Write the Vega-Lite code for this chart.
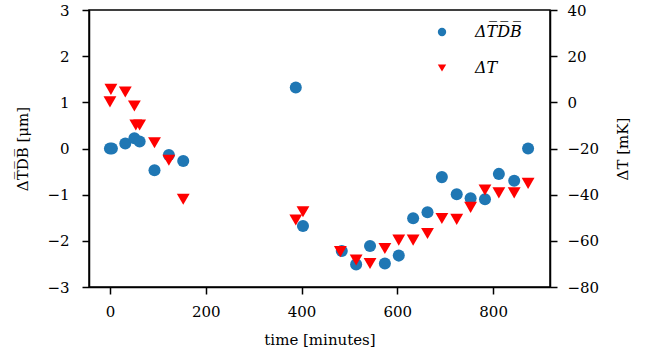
{
  "$schema": "https://vega.github.io/schema/vega-lite/v6.json",
  "width": 461,
  "height": 277,
  "autosize": {"type": "none"},
  "padding": {"left": 89, "top": 10, "right": 102, "bottom": 71},
  "background": "white",
  "config": {
    "view": {"stroke": "black", "strokeWidth": 1.5},
    "font": "DejaVu Serif",
    "axis": {
      "labelFont": "DejaVu Serif",
      "titleFont": "DejaVu Serif",
      "labelFontSize": 15,
      "titleFontSize": 15,
      "labelColor": "black",
      "titleColor": "black",
      "titleFontWeight": "normal",
      "domainColor": "black",
      "domainWidth": 1.5,
      "tickColor": "black",
      "tickWidth": 1.5,
      "tickSize": 7,
      "labelPadding": 7,
      "grid": false
    }
  },
  "data": {
    "values": [
      {"t": 0, "v": 0.0, "s": "ΔT̅D̅B̅"},
      {"t": 4, "v": 0.0, "s": "ΔT̅D̅B̅"},
      {"t": 32, "v": 0.11, "s": "ΔT̅D̅B̅"},
      {"t": 51, "v": 0.22, "s": "ΔT̅D̅B̅"},
      {"t": 62, "v": 0.15, "s": "ΔT̅D̅B̅"},
      {"t": 93, "v": -0.47, "s": "ΔT̅D̅B̅"},
      {"t": 123, "v": -0.14, "s": "ΔT̅D̅B̅"},
      {"t": 153, "v": -0.27, "s": "ΔT̅D̅B̅"},
      {"t": 388, "v": 1.32, "s": "ΔT̅D̅B̅"},
      {"t": 403, "v": -1.68, "s": "ΔT̅D̅B̅"},
      {"t": 484, "v": -2.22, "s": "ΔT̅D̅B̅"},
      {"t": 514, "v": -2.51, "s": "ΔT̅D̅B̅"},
      {"t": 543, "v": -2.11, "s": "ΔT̅D̅B̅"},
      {"t": 574, "v": -2.49, "s": "ΔT̅D̅B̅"},
      {"t": 603, "v": -2.32, "s": "ΔT̅D̅B̅"},
      {"t": 633, "v": -1.51, "s": "ΔT̅D̅B̅"},
      {"t": 663, "v": -1.38, "s": "ΔT̅D̅B̅"},
      {"t": 693, "v": -0.62, "s": "ΔT̅D̅B̅"},
      {"t": 724, "v": -0.99, "s": "ΔT̅D̅B̅"},
      {"t": 753, "v": -1.08, "s": "ΔT̅D̅B̅"},
      {"t": 783, "v": -1.1, "s": "ΔT̅D̅B̅"},
      {"t": 812, "v": -0.55, "s": "ΔT̅D̅B̅"},
      {"t": 844, "v": -0.7, "s": "ΔT̅D̅B̅"},
      {"t": 873, "v": 0.0, "s": "ΔT̅D̅B̅"},
      {"t": 2, "v": 5.6, "s": "ΔT"},
      {"t": 0, "v": 0.2, "s": "ΔT"},
      {"t": 32, "v": 4.5, "s": "ΔT"},
      {"t": 51, "v": -1.6, "s": "ΔT"},
      {"t": 54, "v": -9.8, "s": "ΔT"},
      {"t": 62, "v": -9.8, "s": "ΔT"},
      {"t": 93, "v": -17.5, "s": "ΔT"},
      {"t": 123, "v": -25.1, "s": "ΔT"},
      {"t": 153, "v": -42.0, "s": "ΔT"},
      {"t": 388, "v": -51.0, "s": "ΔT"},
      {"t": 403, "v": -47.4, "s": "ΔT"},
      {"t": 481, "v": -64.7, "s": "ΔT"},
      {"t": 514, "v": -68.3, "s": "ΔT"},
      {"t": 543, "v": -69.8, "s": "ΔT"},
      {"t": 574, "v": -63.3, "s": "ΔT"},
      {"t": 603, "v": -59.7, "s": "ΔT"},
      {"t": 633, "v": -59.7, "s": "ΔT"},
      {"t": 663, "v": -56.8, "s": "ΔT"},
      {"t": 693, "v": -50.3, "s": "ΔT"},
      {"t": 724, "v": -50.7, "s": "ΔT"},
      {"t": 753, "v": -45.5, "s": "ΔT"},
      {"t": 783, "v": -38.0, "s": "ΔT"},
      {"t": 812, "v": -39.2, "s": "ΔT"},
      {"t": 844, "v": -39.2, "s": "ΔT"},
      {"t": 873, "v": -35.1, "s": "ΔT"}
    ]
  },
  "encoding": {
    "x": {
      "field": "t",
      "type": "quantitative",
      "scale": {"domain": [-43.75, 918.75], "nice": false, "zero": false},
      "axis": {"values": [0, 200, 400, 600, 800], "title": "time [minutes]", "titlePadding": 13, "labelPadding": 10}
    },
    "color": {
      "field": "s",
      "type": "nominal",
      "scale": {"domain": ["ΔT̅D̅B̅", "ΔT"], "range": ["#1f77b4", "#ff0000"]},
      "legend": {
        "title": null,
        "orient": "none",
        "legendX": 345,
        "legendY": 14,
        "labelFont": "DejaVu Serif",
        "labelFontStyle": "italic",
        "labelFontSize": 16,
        "labelColor": "black",
        "labelOffset": 25,
        "symbolSize": 70,
        "rowPadding": 20,
        "symbolStrokeWidth": 0,
        "encode": {"symbols": {"update": {"opacity": {"signal": "datum.value == 'ΔT' ? 0.5 : 1"}}}}
      }
    },
    "shape": {
      "field": "s",
      "type": "nominal",
      "scale": {"domain": ["ΔT̅D̅B̅", "ΔT"], "range": ["circle", "triangle-down"]},
      "legend": null
    }
  },
  "layer": [
    {
      "transform": [{"filter": "datum.s != 'ΔT'"}],
      "mark": {"type": "point", "filled": true, "size": 145, "opacity": 1},
      "encoding": {
        "y": {
          "field": "v",
          "type": "quantitative",
          "scale": {"domain": [-3, 3], "nice": false, "zero": false},
          "axis": {"values": [-3, -2, -1, 0, 1, 2, 3], "title": "ΔT̅D̅B̅ [μm]", "labelPadding": 13, "titlePadding": 16, "labelExpr": "replace(datum.label, '-', '−')"}
        }
      }
    },
    {
      "transform": [{"filter": "datum.s == 'ΔT'"}],
      "mark": {"type": "point", "filled": true, "size": 165, "opacity": 1},
      "encoding": {
        "y": {
          "field": "v",
          "type": "quantitative",
          "scale": {"domain": [-80, 40], "nice": false, "zero": false},
          "axis": {"orient": "right", "values": [-80, -60, -40, -20, 0, 20, 40], "title": "ΔT [mK]", "titleAngle": 270, "titlePadding": 32, "labelPadding": 10, "labelExpr": "replace(datum.label, '-', '−')"}
        }
      }
    }
  ],
  "resolve": {"scale": {"y": "independent"}}
}
